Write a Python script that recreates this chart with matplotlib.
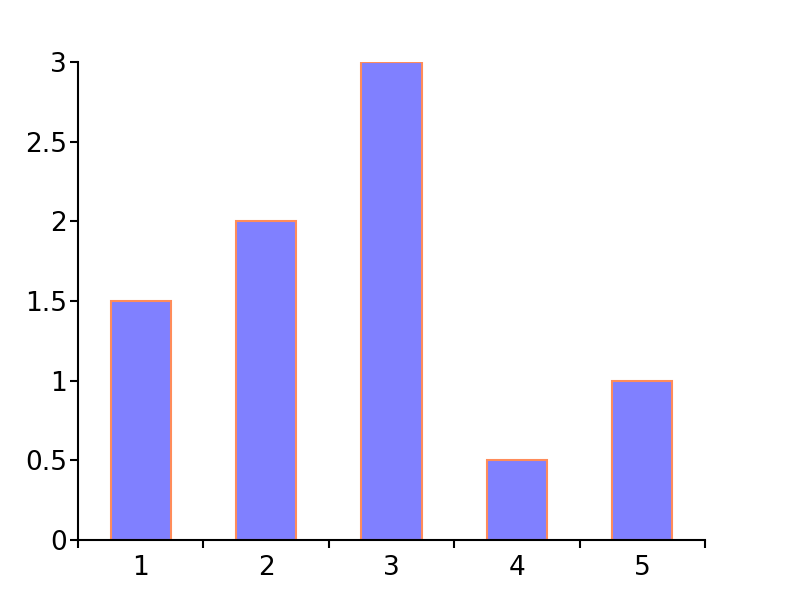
import matplotlib
matplotlib.use("Agg")
import matplotlib.pyplot as plt
import numpy as np

# %% Data
categories = ["1", "2", "3", "4", "5"]
values = [1.5, 2, 3, 0.5, 1]

# %% Style
BAR_COLOR = "#8080ff"
EDGE_COLOR = "#ff8c5a"
FONT_SIZE = 19

plt.rcParams.update(
    {
        "font.family": "DejaVu Sans",
        "font.size": FONT_SIZE,
        "axes.spines.right": False,
        "axes.spines.top": False,
        "axes.linewidth": 1.5,
        "xtick.major.width": 1.5,
        "ytick.major.width": 1.5,
        "xtick.major.size": 6,
        "ytick.major.size": 6,
        "ytick.major.pad": 2,
    }
)

fig = plt.figure(figsize=(8, 6), dpi=100)
ax = fig.add_axes([0.0975, 0.1, 0.78375, 0.7967])

x = np.arange(1, len(categories) + 1)
ax.bar(x, values, width=0.48, color=BAR_COLOR, edgecolor=EDGE_COLOR, linewidth=1.5)

ax.set_xlim(0.5, len(categories) + 0.5)
ax.set_ylim(0, 3)
ax.set_yticks([0, 0.5, 1, 1.5, 2, 2.5, 3])
ax.set_yticklabels(["0", "0.5", "1", "1.5", "2", "2.5", "3"])

# ticks sit between categories, labels at bar centres
ax.set_xticks(np.arange(0.5, len(categories) + 1.0, 1.0))
ax.set_xticklabels([])
ax.set_xticks(x, minor=True)
ax.set_xticklabels(categories, minor=True)
ax.tick_params(axis="x", which="minor", length=0, pad=11)

fig.savefig("out.png", dpi=100)
